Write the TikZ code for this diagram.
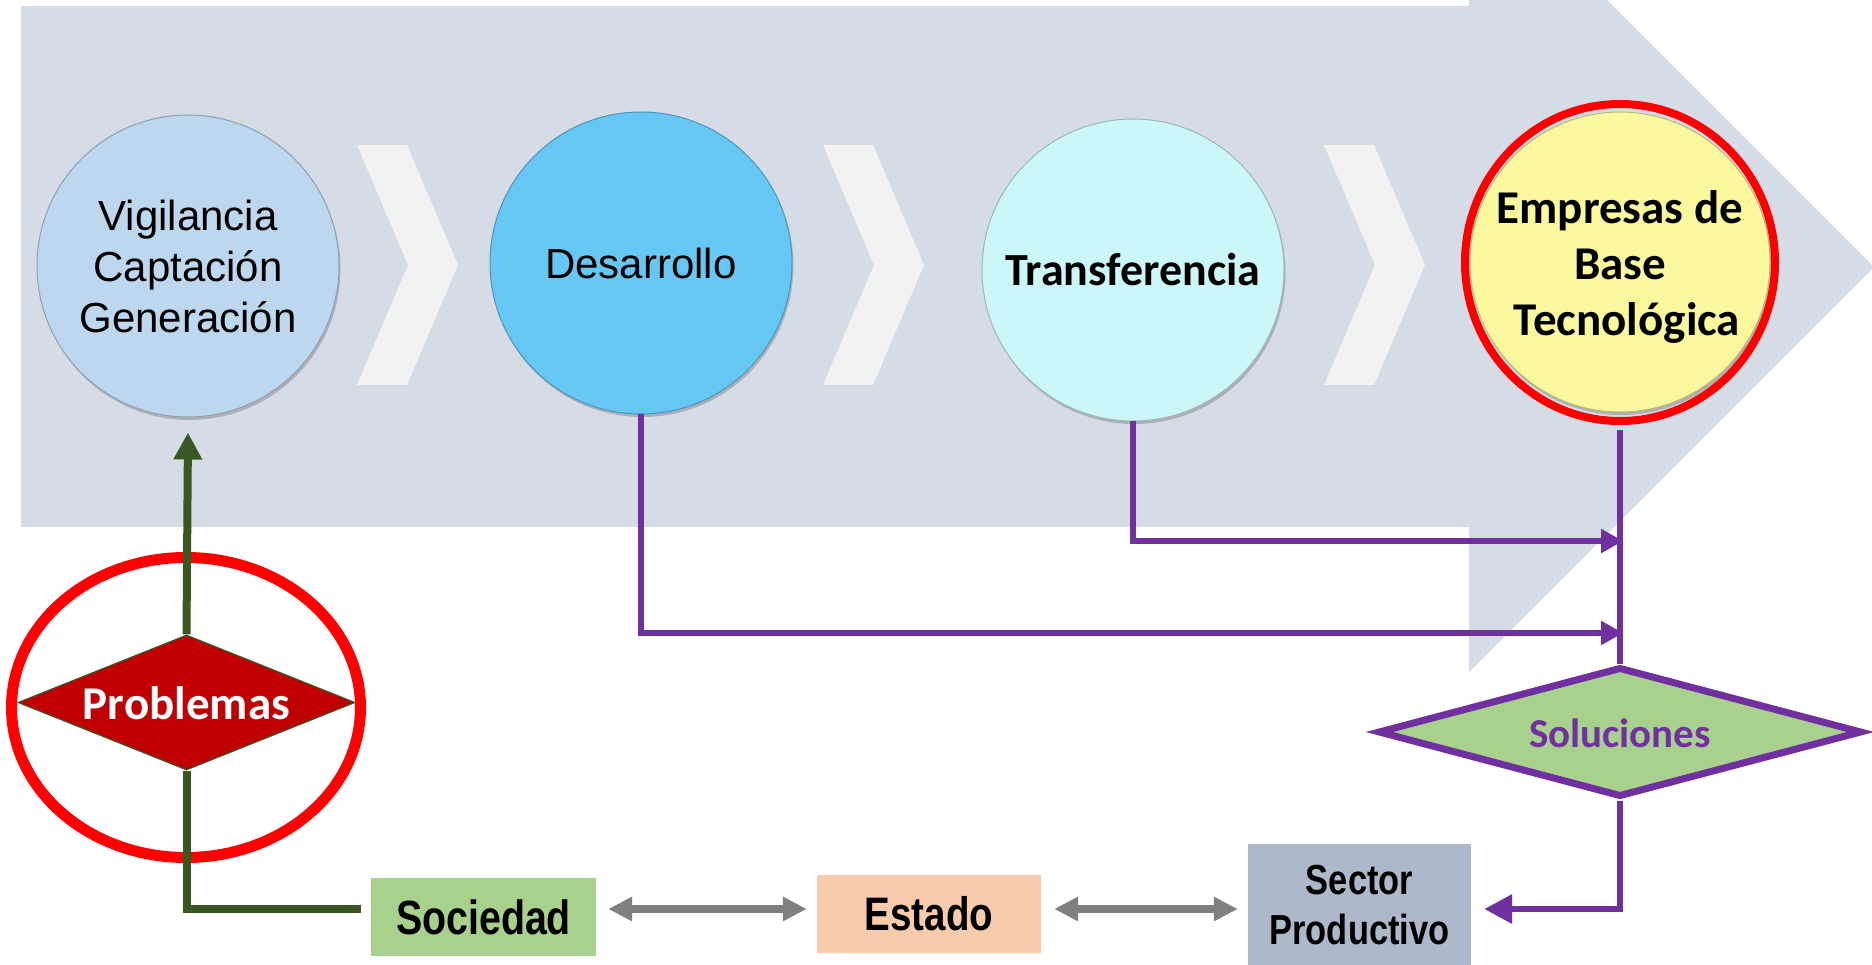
\documentclass[tikz,border=0pt]{standalone}
\usepackage{fontspec}
\setmainfont{Liberation Sans}
\newfontfamily\calibri{Carlito}
\newfontfamily\narrowf[FakeStretch=0.82]{Liberation Sans}
\usetikzlibrary{arrows.meta,shapes.geometric,shadows,calc}
\definecolor{bodyc}{HTML}{D6DCE5}
\definecolor{chev}{HTML}{F2F2F2}
\definecolor{vigc}{HTML}{BDD7EE}
\definecolor{desc}{HTML}{66C7F5}
\definecolor{trac}{HTML}{CCF7F8}
\definecolor{empc}{HTML}{FAF89C}
\definecolor{dgreen}{HTML}{385723}
\definecolor{probred}{HTML}{C00000}
\definecolor{purp}{HTML}{7030A0}
\definecolor{lgreen}{HTML}{A9D18E}
\definecolor{peach}{HTML}{F8CBAD}
\definecolor{slate}{HTML}{ADB9CA}
\definecolor{garr}{HTML}{808080}
\tikzset{
  bubble/.style={circle, minimum size=302pt, inner sep=0pt, align=center,
    fill=#1, draw=#1!75!black, line width=1pt,
    drop shadow={shadow xshift=1.5pt, shadow yshift=-3pt, opacity=0.3, fill=black!70}},
  ring/.style={ellipse, draw=red, inner sep=0pt},
  flatbox/.style={rectangle, inner sep=0pt, align=center},
  pline/.style={draw=purp, line width=6.5pt},
  gline/.style={draw=dgreen, line width=8pt},
  arialtxt/.style={font=\fontsize{42}{51}\selectfont},
  calbold/.style={font=\calibri\bfseries\fontsize{#1}{56}\selectfont},
  narrowbold/.style={font=\narrowf\bfseries\fontsize{#1}{50}\selectfont},
}
\begin{document}
\begin{tikzpicture}[x=1pt,y=-1pt]
\useasboundingbox (0,0) rectangle (1872,965);
\clip (0,0) rectangle (1872,965);
% big process arrow
\fill[bodyc] (21,6) rectangle (1470,527);
\fill[bodyc] (1469,-138) -- (1874,267) -- (1469,672) -- cycle;
% chevrons
\foreach \dx in {0,466,967}{
  \fill[chev, shift={(\dx,0)}] (357,145) -- (407,145) -- (458,265) -- (407,385) -- (357,385) -- (408,265) -- cycle;
}
% circles
\node[bubble=vigc, arialtxt] (vig) at (188,266) {Vigilancia\\Captación\\Generación};
\node[bubble=desc, arialtxt] (des) at (641,263) {Desarrollo};
\node[bubble=trac, calbold=46] (tra) at (1133,270) {Transferencia};
\node[bubble=empc, minimum size=300pt] (emp) at (1620,262) {};
\node[calbold=47, align=center] (emptxt) at (1620,267) {Empresas de\\Base\\\hspace*{14pt}Tecnológica};
\node[ring, line width=8pt, minimum width=310pt, minimum height=317pt] (empring) at (1620,262.5) {};
% purple connectors
\coordinate (j1) at (1623,633);
\coordinate (j2) at (1623,541);
\coordinate (g1) at (0,909);
\draw[pline, -{Triangle[length=22pt,width=23pt]}] (des.south) |- (j1);
\draw[pline, -{Triangle[length=22pt,width=23pt]}] (tra.south) |- (j2);
\node[diamond, minimum width=484pt, minimum height=130pt, inner sep=0pt, fill=lgreen, draw=purp, line width=7pt] (sol) at (1620,732) {};
\draw[pline] ([yshift=-5pt]empring.south) -- (sol.north);
\node[calbold=41, text=purp] at (1620,733) {Soluciones};
% bottom boxes
\node[flatbox, fill=lgreen, minimum width=225pt, minimum height=78pt, narrowbold=48] (soc) at (483.5,917) {Sociedad};
\node[flatbox, fill=peach, minimum width=224pt, minimum height=78pt, narrowbold=47] (est) at (929,914) {Estado};
\node[flatbox, fill=slate, minimum width=223pt, minimum height=123pt, narrowbold=42] (sec) at (1359.5,905.5) {Sector\\Productivo};
\draw[pline, -{Triangle[length=28pt,width=28pt]}] (sol.south) |- ([xshift=13pt]sec.east |- g1);
% grey double arrows
\draw[draw=garr, line width=8pt, {Triangle[length=24pt,width=23pt]}-{Triangle[length=24pt,width=23pt]}, shorten <=12pt, shorten >=10pt] (soc.east |- g1) -- (est.west |- g1);
\draw[draw=garr, line width=8pt, {Triangle[length=24pt,width=23pt]}-{Triangle[length=24pt,width=23pt]}, shorten <=13pt, shorten >=10pt] (est.east |- g1) -- (sec.west |- g1);
% problemas
\node[ring, line width=11pt, minimum width=349pt, minimum height=300pt] (probring) at (186,707.5) {};
\node[diamond, minimum width=337pt, minimum height=135pt, inner sep=0pt, fill=probred, draw=dgreen, line width=1.2pt] (prob) at (186.5,702.5) {};
\draw[gline] ([xshift=-10pt]soc.west |- g1) -| (prob.south);
\draw[gline, -{Triangle[length=27pt,width=27pt]}] (prob.north) -- ([yshift=-15pt]vig.south);
\node[calbold=47, text=white] at (186.5,703) {Problemas};
\end{tikzpicture}
\end{document}
